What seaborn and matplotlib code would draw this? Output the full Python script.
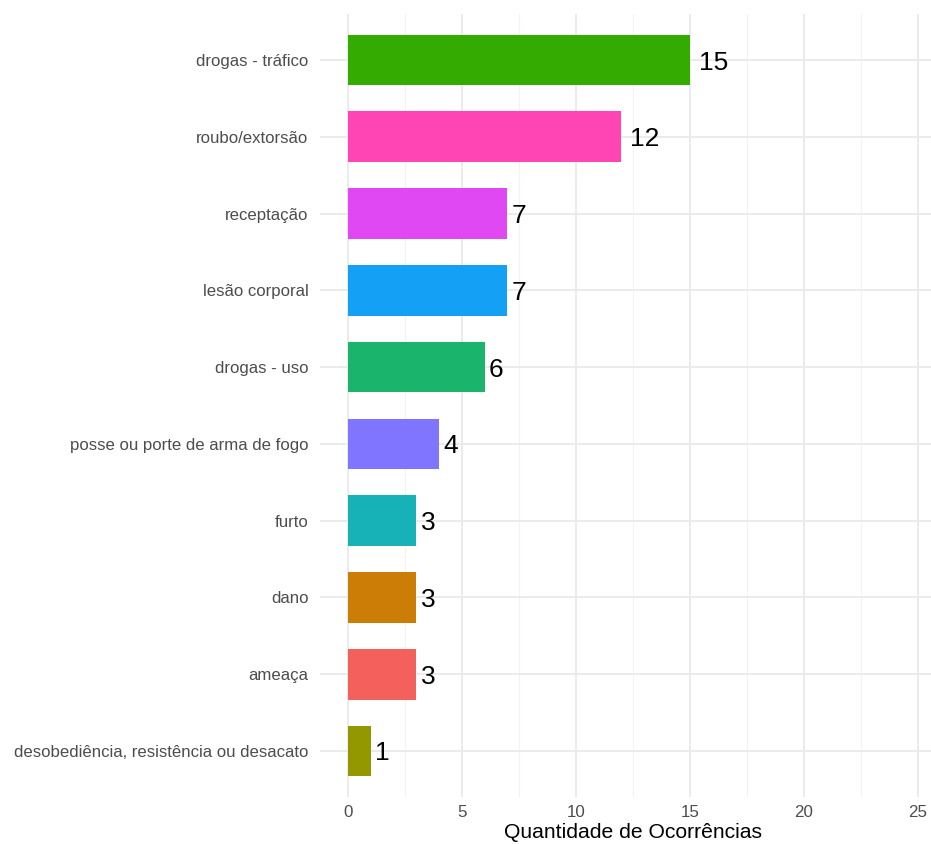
import matplotlib
matplotlib.use("Agg")
import matplotlib.pyplot as plt
import seaborn as sns
import pandas as pd
from matplotlib.ticker import MultipleLocator

categorias = [
    "drogas - tráfico",
    "roubo/extorsão",
    "receptação",
    "lesão corporal",
    "drogas - uso",
    "posse ou porte de arma de fogo",
    "furto",
    "dano",
    "ameaça",
    "desobediência, resistência ou desacato",
]
quantidades = [15, 12, 7, 7, 6, 4, 3, 3, 3, 1]
cores = [
    "#34AB00", "#FF45B4", "#DF48F2", "#14A0F4", "#1AB46C",
    "#8075FF", "#17B2B7", "#CC7D06", "#F4605C", "#949800",
]
xticks = [0, 5, 10, 15, 20, 25]

sns.set_theme(style="white")
plt.rcParams["font.family"] = ["Liberation Sans", "DejaVu Sans"]

df = pd.DataFrame({"categoria": categorias, "n": quantidades})
palette = dict(zip(categorias, cores))

fig = plt.figure(figsize=(9.31, 8.44), dpi=100)
ax = fig.add_axes([319.5 / 931, 1 - 797 / 844, (946 - 319.5) / 931, (797 - 14) / 844])

sns.barplot(data=df, y="categoria", x="n", hue="categoria", palette=palette,
            order=categorias, hue_order=categorias, orient="h", width=0.66,
            legend=False, saturation=1, linewidth=0, edgecolor="none",
            ax=ax, zorder=2)

ax.set_axisbelow(True)
ax.xaxis.set_minor_locator(MultipleLocator(2.5))
ax.xaxis.grid(True, which="major", color="#EBEBEB", linewidth=1.4, zorder=0)
ax.yaxis.grid(True, which="major", color="#EBEBEB", linewidth=1.4, zorder=0)
ax.xaxis.grid(True, which="minor", color="#F2F2F2", linewidth=0.8, zorder=0)

fs = 19
for i, v in enumerate(quantidades):
    s = str(v)
    ax.annotate(s, xy=(v, i), xytext=(0.3 * len(s) * 0.556 * fs, 0),
                textcoords="offset points", ha="left", va="center_baseline",
                fontsize=fs, color="black", zorder=3)

ax.set_xlim(-1.25, 26.25)
ax.set_ylim(9.6, -0.6)
ax.set_xticks(xticks)
ax.set_xticklabels([str(t) for t in xticks])
ax.tick_params(axis="y", length=0, labelsize=12.1, labelcolor="#4D4D4D", pad=8)
ax.tick_params(axis="x", which="both", length=0, labelsize=12.2, labelcolor="#4D4D4D", pad=6)
ax.set_xlabel("Quantidade de Ocorrências", fontsize=15.2, color="black", labelpad=2)
ax.set_ylabel("")
for sp in ax.spines.values():
    sp.set_visible(False)

fig.savefig("out.png", dpi=100)
